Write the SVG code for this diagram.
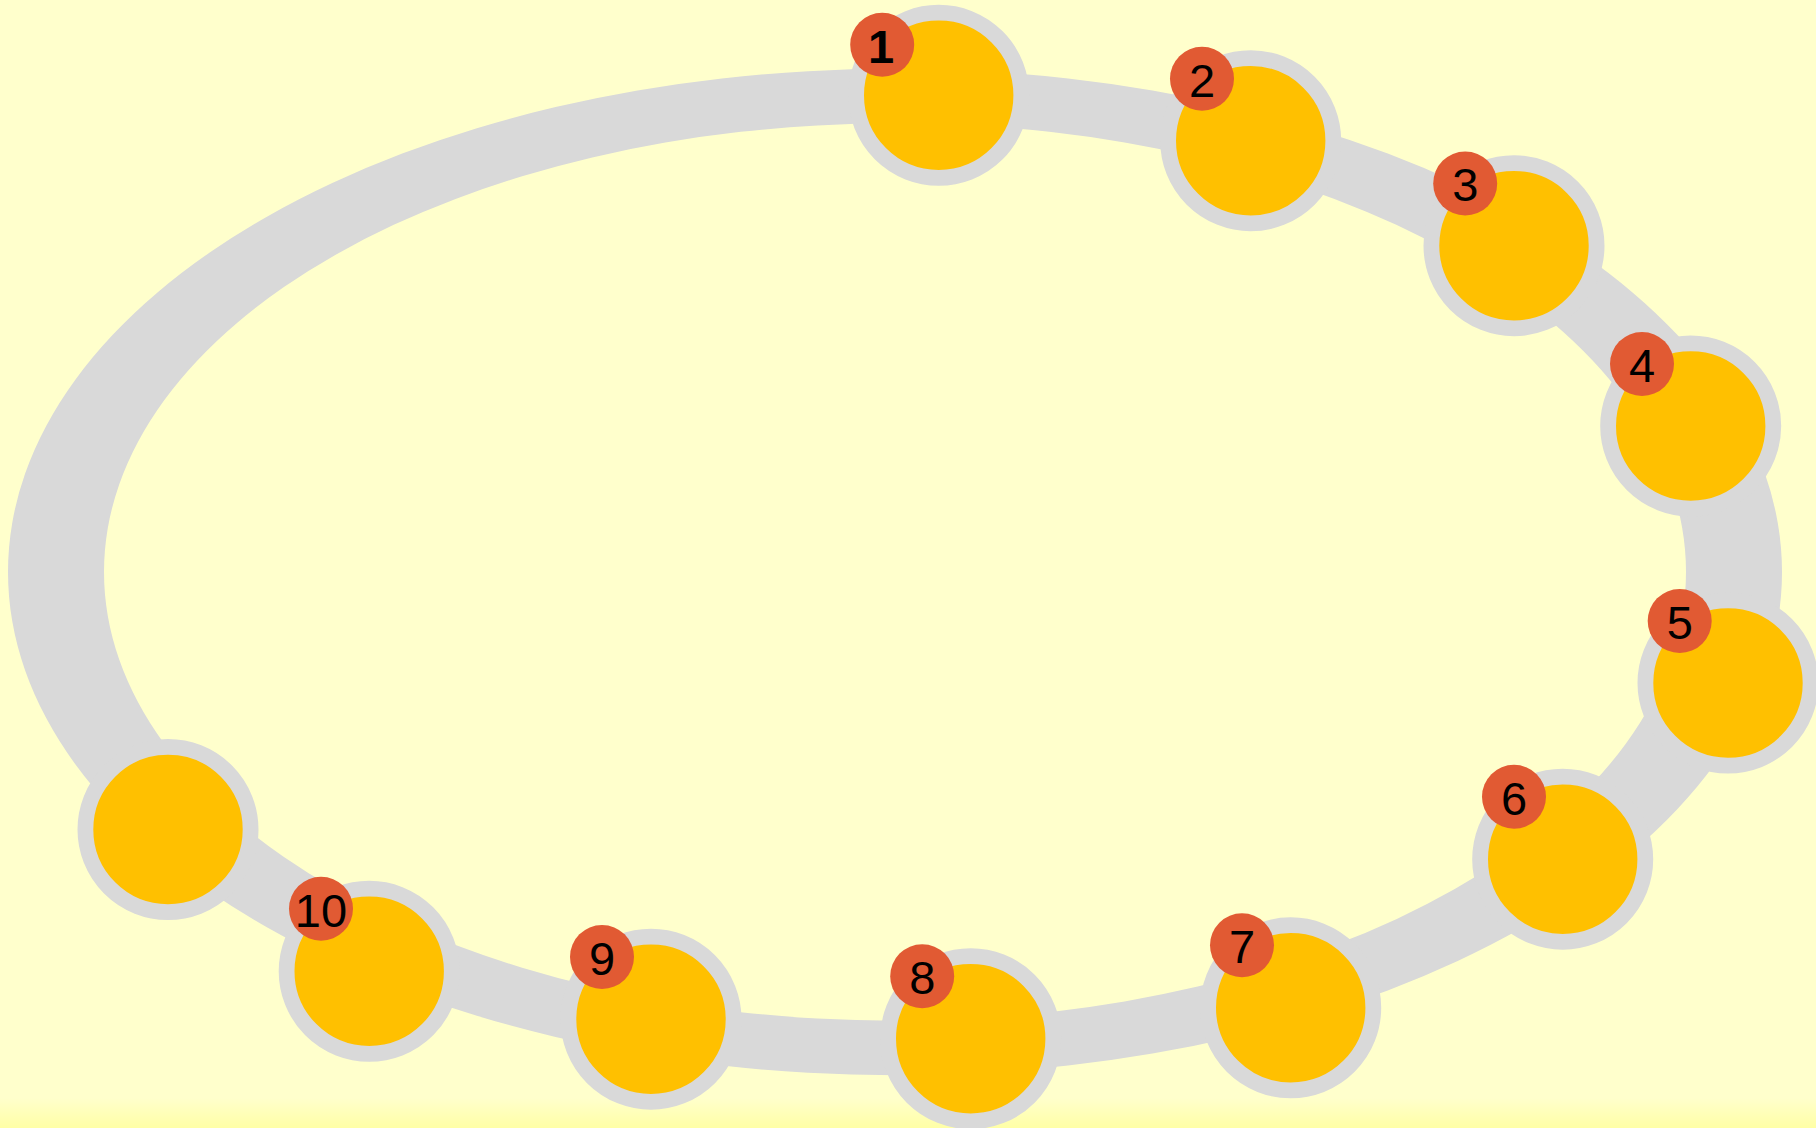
<svg xmlns="http://www.w3.org/2000/svg" width="1816" height="1128" viewBox="0 0 1816 1128">
  <defs>
    <linearGradient id="bottomGlow" x1="0" y1="0" x2="0" y2="1">
      <stop offset="0" stop-color="#FFFFCC"/>
      <stop offset="1" stop-color="#FFFFA6"/>
    </linearGradient>
    <style>
      .node { fill: #FFC000; stroke: #D9D9D9; stroke-width: 15.8; }
      .badge { fill: #E15A33; }
      .num { font-family: "Liberation Sans", Arial, sans-serif; font-size: 47px; fill: #000000; text-anchor: middle; }
      .ring { fill: #D9D9D9; fill-rule: evenodd; }
    </style>
  </defs>
  <rect x="0" y="0" width="1816" height="1128" fill="#FFFFCC"/>
  <rect x="0" y="1098" width="1816" height="30" fill="url(#bottomGlow)"/>

  <g id="connectors">
    <path class="ring" d="M 8 572 A 887 503.25 0 1 0 1782 572 A 887 503.25 0 1 0 8 572 Z M 104 572 A 791 448.75 0 1 0 1686 572 A 791 448.75 0 1 0 104 572 Z"/>
  </g>

  <g id="node11">
    <circle class="node" cx="168" cy="829.5" r="82.6"/>
  </g>
  <g id="node10">
    <circle class="node" cx="369.2" cy="971.3" r="82.6"/>
    <circle class="badge" cx="321" cy="908.7" r="32"/>
    <text class="num" x="321" y="926.5">10</text>
  </g>
  <g id="node9">
    <circle class="node" cx="651" cy="1019.2" r="82.6"/>
    <circle class="badge" cx="602" cy="957" r="32"/>
    <text class="num" x="602" y="974.8">9</text>
  </g>
  <g id="node8">
    <circle class="node" cx="970.7" cy="1038.7" r="82.6"/>
    <circle class="badge" cx="922.2" cy="976.2" r="32"/>
    <text class="num" x="922.2" y="994">8</text>
  </g>
  <g id="node7">
    <circle class="node" cx="1290.7" cy="1007.8" r="82.6"/>
    <circle class="badge" cx="1242" cy="945.3" r="32"/>
    <text class="num" x="1242" y="963.1">7</text>
  </g>
  <g id="node6">
    <circle class="node" cx="1562.7" cy="859.2" r="82.6"/>
    <circle class="badge" cx="1514" cy="796.8" r="32"/>
    <text class="num" x="1514" y="814.6">6</text>
  </g>
  <g id="node5">
    <circle class="node" cx="1728" cy="683" r="82.6"/>
    <circle class="badge" cx="1679.7" cy="621" r="32"/>
    <text class="num" x="1679.7" y="638.8">5</text>
  </g>
  <g id="node4">
    <circle class="node" cx="1690.7" cy="426" r="82.6"/>
    <circle class="badge" cx="1642" cy="364" r="32"/>
    <text class="num" x="1642" y="381.8">4</text>
  </g>
  <g id="node3">
    <circle class="node" cx="1514" cy="245.7" r="82.6"/>
    <circle class="badge" cx="1465.2" cy="183.5" r="32"/>
    <text class="num" x="1465.2" y="201.3">3</text>
  </g>
  <g id="node2">
    <circle class="node" cx="1250.7" cy="140.7" r="82.6"/>
    <circle class="badge" cx="1202" cy="78.8" r="32"/>
    <text class="num" x="1202" y="96.6">2</text>
  </g>
  <g id="node1">
    <circle class="node" cx="938.7" cy="95.3" r="82.6"/>
    <circle class="badge" cx="882.2" cy="44.8" r="32"/>
    <text class="num" x="881" y="62.6" font-weight="bold">1</text>
  </g>
</svg>
